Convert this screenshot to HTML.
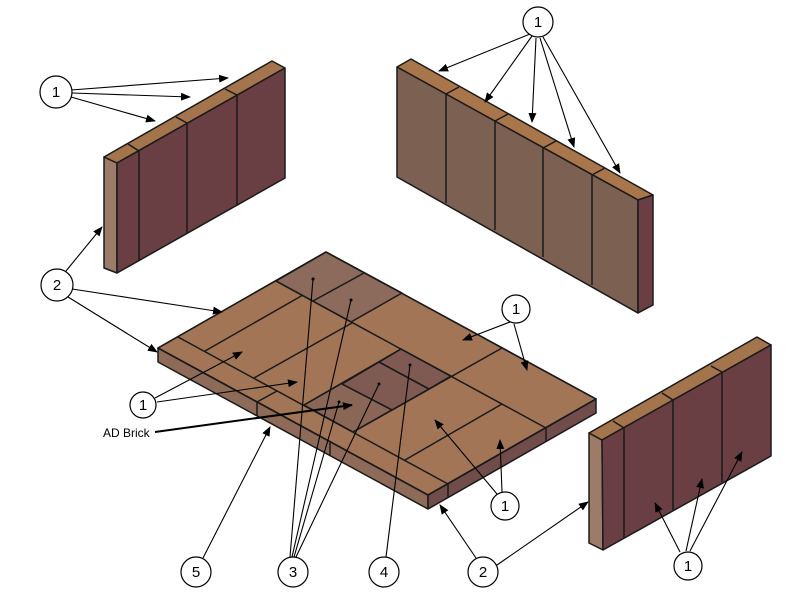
<!DOCTYPE html>
<html><head><meta charset="utf-8"><style>body{margin:0;background:#fff}svg{display:block}</style></head>
<body>
<svg width="800" height="611" viewBox="0 0 800 611" xmlns="http://www.w3.org/2000/svg" font-family="Liberation Sans, sans-serif">
<defs>
<marker id="a" markerWidth="10" markerHeight="8" refX="9" refY="4" orient="auto" markerUnits="userSpaceOnUse"><path d="M0,0 L10,4 L0,8 z" fill="#000"/></marker>
</defs>
<g stroke="#1a1a1a" stroke-width="1.5" stroke-linejoin="round">
<!-- Left wall -->
<polygon points="104,157 117,163 117,273 104,268" fill="#9c7c68"/>
<polygon points="104,157 272,61 285,68 117,163" fill="#a4744c"/>
<polygon points="117,163 285,68 285,178 117,273" fill="#6a3f44"/>
<line x1="139" y1="151" x2="139" y2="261"/><line x1="187" y1="123" x2="187" y2="233"/><line x1="237" y1="95" x2="237" y2="205"/>
<line x1="128" y1="144" x2="139" y2="151"/><line x1="176" y1="117" x2="187" y2="123"/><line x1="225" y1="89" x2="237" y2="95"/>
<!-- Back wall -->
<polygon points="397,67 411,59 653,195 638,200" fill="#a8764a"/>
<polygon points="397,67 638,200 638,313 397,177" fill="#7c6052"/>
<polygon points="638,200 653,195 653,305 638,313" fill="#6a3e44"/>
<line x1="446" y1="94" x2="446" y2="203"/><line x1="495" y1="121" x2="495" y2="230"/><line x1="543" y1="148" x2="543" y2="257"/><line x1="592" y1="175" x2="592" y2="285"/>
<line x1="446" y1="94" x2="459" y2="87"/><line x1="495" y1="121" x2="508" y2="114"/><line x1="543" y1="148" x2="556" y2="141"/><line x1="592" y1="175" x2="605" y2="168"/>
<!-- Right wall -->
<polygon points="589,433 602,440 603,550 589,543" fill="#9c7c68"/>
<polygon points="589,433 757,337 771,345 602,440" fill="#a4744c"/>
<polygon points="602,440 771,345 771,456 603,550" fill="#6a3f44"/>
<line x1="624" y1="428" x2="624" y2="538"/><line x1="673" y1="400" x2="673" y2="510"/><line x1="722" y1="372" x2="722" y2="482"/>
<line x1="613" y1="421" x2="624" y2="428"/><line x1="662" y1="393" x2="673" y2="400"/><line x1="711" y1="366" x2="722" y2="372"/>
<!-- Floor -->
<polygon points="158,348 428,495 428,509 158,362" fill="#8e6a58"/>
<polygon points="428,495 596,399 596,413 428,509" fill="#704c4a"/>
<polygon points="158,348 326,252 596,399 428,495" fill="#a27556"/>
<polygon points="276,281 326,252 402,293 351,322" fill="#8c6a5c"/>
<polygon points="304,405 379,362 429,389 353,432" fill="#8a6656"/>
<polygon points="342,384 379,362 429,389 392,410" fill="#7e5a52"/>
<polygon points="379,362 401,349 451,376 429,389" fill="#7e5a52"/>
<line x1="178" y1="337" x2="448" y2="484"/>
<line x1="276" y1="281" x2="546" y2="428"/>
<line x1="313" y1="301" x2="364" y2="273"/>
<line x1="205" y1="351" x2="303" y2="295"/>
<line x1="254" y1="378" x2="352" y2="323"/>
<line x1="257" y1="402" x2="277" y2="391"/>
<line x1="304" y1="405" x2="401" y2="349"/>
<line x1="353" y1="432" x2="502" y2="348"/>
<line x1="405" y1="460" x2="502" y2="404"/>
<line x1="379" y1="362" x2="429" y2="389"/>
<line x1="342" y1="384" x2="392" y2="410"/>
<line x1="257" y1="402" x2="257" y2="416"/><line x1="330" y1="442" x2="330" y2="456"/>
<line x1="448" y1="484" x2="448" y2="497"/><line x1="546" y1="428" x2="546" y2="441"/>
<polygon points="158,348 326,252 596,399 428,495" fill="none"/>
<polyline points="158,348 428,495 596,399" fill="none"/>
</g>
<!-- Leaders -->
<g stroke="#000" stroke-width="1.1" fill="none">
<line x1="71" y1="90" x2="228" y2="78" marker-end="url(#a)"/>
<line x1="72" y1="93" x2="190" y2="97" marker-end="url(#a)"/>
<line x1="71" y1="97" x2="155" y2="121" marker-end="url(#a)"/>
<line x1="66" y1="271" x2="102" y2="227" marker-end="url(#a)"/>
<line x1="72" y1="289" x2="222" y2="312" marker-end="url(#a)"/>
<line x1="68" y1="297" x2="157" y2="352" marker-end="url(#a)"/>
<line x1="530" y1="34" x2="439" y2="71" marker-end="url(#a)"/>
<line x1="532" y1="36" x2="485" y2="102" marker-end="url(#a)"/>
<line x1="536" y1="38" x2="532" y2="122" marker-end="url(#a)"/>
<line x1="540" y1="38" x2="574" y2="147" marker-end="url(#a)"/>
<line x1="543" y1="37" x2="620" y2="173" marker-end="url(#a)"/>
<line x1="510" y1="322" x2="463" y2="340" marker-end="url(#a)"/>
<line x1="514" y1="324" x2="527" y2="370" marker-end="url(#a)"/>
<line x1="155" y1="398" x2="242" y2="352" marker-end="url(#a)"/>
<line x1="157" y1="402" x2="297" y2="382" marker-end="url(#a)"/>
<line x1="155" y1="432" x2="352" y2="405" stroke-width="2" marker-end="url(#a)"/>
<line x1="497" y1="494" x2="435" y2="420" marker-end="url(#a)"/>
<line x1="502" y1="492" x2="500" y2="440" marker-end="url(#a)"/>
<line x1="680" y1="552" x2="655" y2="503" marker-end="url(#a)"/>
<line x1="686" y1="551" x2="702" y2="479" marker-end="url(#a)"/>
<line x1="690" y1="551" x2="742" y2="452" marker-end="url(#a)"/>
<line x1="203" y1="558" x2="270" y2="427" marker-end="url(#a)"/>
<line x1="290" y1="557" x2="313" y2="279"/>
<line x1="292" y1="557" x2="351" y2="300"/>
<line x1="294" y1="557" x2="339" y2="402"/>
<line x1="296" y1="557" x2="379" y2="384"/>
<line x1="386" y1="557" x2="410" y2="365"/>
<line x1="476" y1="558" x2="440" y2="505" marker-end="url(#a)"/>
<line x1="497" y1="565" x2="588" y2="502" marker-end="url(#a)"/>
</g>
<g fill="#000"><circle cx="313" cy="279" r="1.5"/><circle cx="351" cy="300" r="1.5"/><circle cx="339" cy="402" r="1.5"/><circle cx="379" cy="384" r="1.5"/><circle cx="410" cy="365" r="1.5"/></g>
<g fill="#fff" stroke="#000" stroke-width="1.2">
<circle cx="56" cy="92" r="16"/><circle cx="57" cy="285" r="16"/><circle cx="538" cy="22" r="15"/>
<circle cx="516" cy="309" r="14"/><circle cx="143" cy="405" r="13"/><circle cx="505" cy="506" r="14"/>
<circle cx="688" cy="566" r="14"/><circle cx="196" cy="572" r="15"/><circle cx="293" cy="572" r="15"/>
<circle cx="384" cy="572" r="15"/><circle cx="483" cy="572" r="15"/>
</g>
<g font-size="15" text-anchor="middle" fill="#000">
<text x="56" y="97">1</text><text x="57" y="290">2</text><text x="538" y="27">1</text>
<text x="516" y="314">1</text><text x="143" y="410">1</text><text x="505" y="511">1</text>
<text x="688" y="571">1</text><text x="196" y="577">5</text><text x="293" y="577">3</text>
<text x="384" y="577">4</text><text x="483" y="577">2</text>
</g>
<text x="103" y="437" font-size="12" fill="#000">AD Brick</text>
</svg>
</body></html>
